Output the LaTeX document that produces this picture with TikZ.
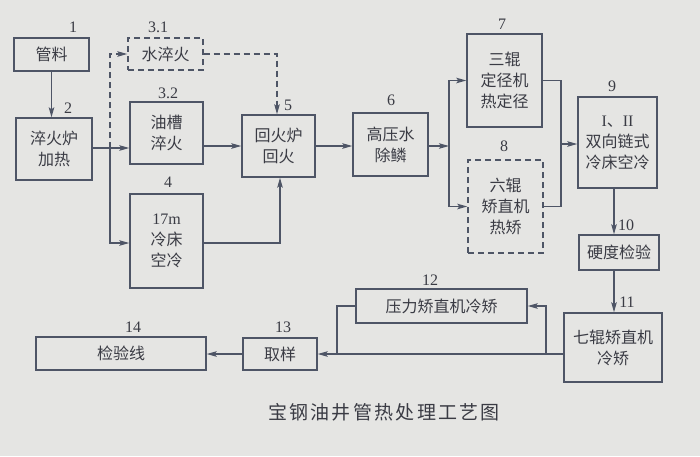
\documentclass[tikz,border=0pt]{standalone}
\usepackage{fontspec}
\setmainfont{Liberation Serif}
\newfontfamily\cjk{Noto Sans CJK SC}
\usetikzlibrary{arrows.meta,calc}
\definecolor{paper}{HTML}{E5E5E3}
\definecolor{ink}{HTML}{4E5566}
\definecolor{txt}{HTML}{3A3B44}
\tikzset{
  box/.style={draw=ink, line width=1.4pt, fill=none, align=center, inner sep=0pt,
    font=\cjk\fontsize{16}{21}\selectfont, text=txt},
  dbox/.style={box, dash pattern=on 6pt off 4pt},
  num/.style={font=\fontsize{16}{16}\selectfont, text=txt, inner sep=0pt},
  conn/.style={draw=ink, line width=1.3pt},
  tip/.style={-{Stealth[length=10pt,width=5.5pt,inset=2pt]}},
  arr/.style={conn, tip},
  dconn/.style={conn, dash pattern=on 6pt off 4pt},
}
\begin{document}
\begin{tikzpicture}[x=1pt,y=-1pt]
\fill[paper] (0,0) rectangle (700,456);
\useasboundingbox (0,0) rectangle (700,456);

\node[box, minimum width=75pt, minimum height=33pt] (n1) at (51.5,54.5) {管料};
\node[box, minimum width=76pt, minimum height=62pt] (n2) at (54,149) {淬火炉\\加热};
\node[dbox, minimum width=75pt, minimum height=32pt] (n31) at (165.5,54) {水淬火};
\node[box, minimum width=73pt, minimum height=62pt] (n32) at (166.5,133) {油槽\\淬火};
\node[box, minimum width=73pt, minimum height=94pt] (n4) at (166.5,241) {{\rmfamily 17m}\\冷床\\空冷};
\node[box, minimum width=73pt, minimum height=62pt] (n5) at (278.5,146) {回火炉\\回火};
\node[box, minimum width=75pt, minimum height=63pt] (n6) at (390.5,144.5) {高压水\\除鳞};
\node[box, minimum width=75pt, minimum height=93pt] (n7) at (504.5,80.5) {三辊\\定径机\\热定径};
\node[dbox, minimum width=75pt, minimum height=93pt] (n8) at (505.5,206.5) {六辊\\矫直机\\热矫};
\node[box, minimum width=79pt, minimum height=91pt] (n9) at (617.5,142.5) {{\rmfamily I}、{\rmfamily II}\\双向链式\\冷床空冷};
\node[box, minimum width=80pt, minimum height=35pt] (n10) at (619,252.5) {硬度检验};
\node[box, minimum width=98pt, minimum height=69pt] (n11) at (613,347.5) {七辊矫直机\\冷矫};
\node[box, minimum width=171pt, minimum height=34pt] (n12) at (441.5,306) {压力矫直机冷矫};
\node[box, minimum width=74pt, minimum height=32pt] (n13) at (280,354) {取样};
\node[box, minimum width=170pt, minimum height=33pt] (n14) at (121,353.5) {检验线};

\node[num] (l1) at (73,27) {1};
\node[num] (l2) at (68,108) {2};
\node[num] (l31) at (158,27) {3.1};
\node[num] (l32) at (168,93) {3.2};
\node[num] (l4) at (168,182) {4};
\node[num] (l5) at (288,105) {5};
\node[num] (l6) at (391,100) {6};
\node[num] (l7) at (502,24) {7};
\node[num] (l8) at (504,146) {8};
\node[num] (l9) at (612,86) {9};
\node[num] (l10) at (626,225) {10};
\node[num] (l11) at (627,302) {11};
\node[num] (l12) at (430,280) {12};
\node[num] (l13) at (283,327) {13};
\node[num] (l14) at (133,327) {14};

\node[font=\cjk\fontsize{19}{19}\selectfont\addfontfeature{LetterSpace=12}, text=txt, inner sep=0pt] (cap) at (384,412) {宝钢油井管热处理工艺图};

\coordinate (j1) at (110,148);
\coordinate (j2) at (110,243);
\coordinate (c1) at (277,54);
\coordinate (c2) at (280,243);
\coordinate (j3) at (449,146);
\coordinate (j4) at (561,144);
\coordinate (v) at (614,0);
\coordinate (j5) at (546,354);
\coordinate (j6) at (337,354);

\draw[arr] (n1.south) -- (n1.south |- n2.north);
\draw[arr] (n2.east |- j1) -- (j1 -| n32.west);
\draw[dconn, tip] (j1) -- (j1 |- n31.west) -- (n31.west);
\draw[arr] (j1) -- (j2) -- (j2 -| n4.west);
\draw[dconn, tip] (n31.east) -- (c1) -- (c1 |- n5.north);
\draw[arr] (n32.east |- n5.west) -- (n5.west);
\draw[arr] (n4.east |- c2) -- (c2) -- (c2 |- n5.south);
\draw[arr] (n5.east) -- (n5.east -| n6.west);
\draw[arr] (n6.east |- j3) -- (j3);
\draw[arr] (j3) -- (j3 |- n7.west) -- (n7.west);
\draw[arr] (j3) -- (j3 |- n8.west) -- (n8.west);
\draw[conn] (n7.east) -| (j4);
\draw[conn] (n8.east) -| (j4);
\draw[arr] (j4) -- (j4 -| n9.west);
\draw[arr] (v |- n9.south) -- (v |- n10.north);
\draw[arr] (v |- n10.south) -- (v |- n11.north);
\draw[arr] (n11.west |- j5) -- (j5 -| n13.east);
\draw[arr] (j5) -- (j5 |- n12.east) -- (n12.east);
\draw[conn] (n12.west) -| (j6);
\draw[arr] (n13.west) -- (n13.west -| n14.east);
\end{tikzpicture}
\end{document}
